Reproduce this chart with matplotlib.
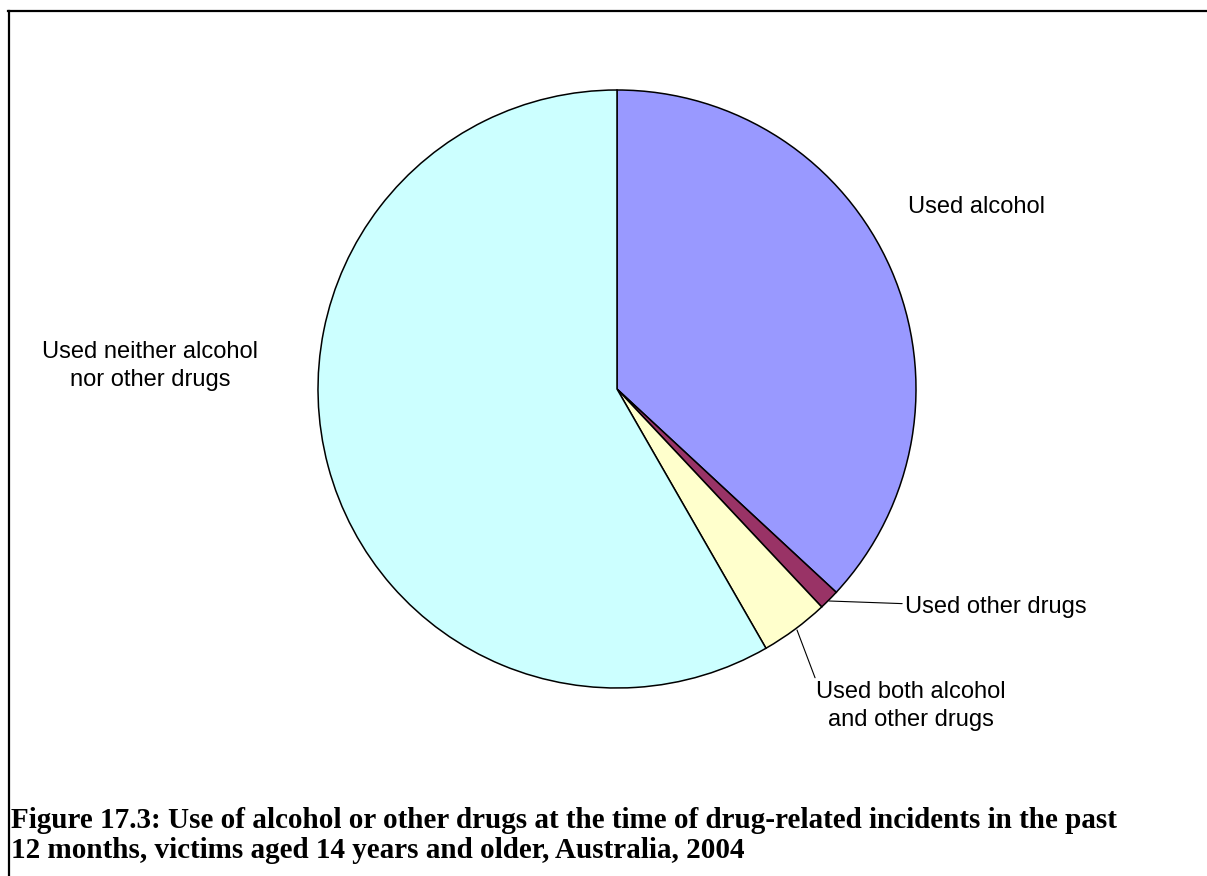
import matplotlib
matplotlib.use('Agg')
import matplotlib.pyplot as plt
from matplotlib.lines import Line2D

# Share of victims (%) by substance use at time of incident
labels = ['Used alcohol', 'Used other drugs',
          'Used both alcohol\nand other drugs',
          'Used neither alcohol\nnor other drugs']
shares = [36.9, 1.1, 3.7, 58.3]
colors = ['#9999FF', '#993366', '#FFFFCC', '#CCFFFF']

caption = ['Figure 17.3: Use of alcohol or other drugs at the time of drug-related incidents in the past',
           '12 months, victims aged 14 years and older, Australia, 2004']

W, H = 1207, 876
fig = plt.figure(figsize=(W / 100, H / 100), dpi=100)

# pie centre (617, 389) px, radius 299 px
cx, cy, r = 617, 389, 299
ax = fig.add_axes([(cx - r) / W, (H - cy - r) / H, 2 * r / W, 2 * r / H])
ax.pie(shares, colors=colors, startangle=90, counterclock=False,
       wedgeprops=dict(edgecolor='black', linewidth=1.1))
ax.set_xlim(-1, 1)
ax.set_ylim(-1, 1)
ax.set_aspect('equal')
ax.axis('off')

font = dict(family='Liberation Sans', fontsize=17, color='black', linespacing=1.4)

ax.text(0.973, 0.609, labels[0], ha='left', va='center', **font)
ax.text(-1.562, 0.077, labels[3], ha='center', va='center', **font)

# leader lines for the two small slices
ax.annotate(labels[1], xy=(0.709, -0.709), xytext=(0.963, -0.729),
            ha='left', va='center', annotation_clip=False,
            arrowprops=dict(arrowstyle='-', color='black', lw=0.8,
                            shrinkA=0, shrinkB=0), **font)
ax.annotate(labels[2], xy=(0.602, -0.806), xytext=(0.983, -1.06),
            ha='center', va='center', annotation_clip=False,
            arrowprops=dict(arrowstyle='-', color='black', lw=0.8,
                            shrinkA=0, shrinkB=0, relpos=(0.0, 1.0)), **font)

# outer frame (top and left edges only visible)
fig.add_artist(Line2D([8 / W, 1.0], [1 - 11 / H, 1 - 11 / H], color='black', lw=1.6))
fig.add_artist(Line2D([9 / W, 9 / W], [0.0, 1 - 11 / H], color='black', lw=1.6))

fig.text(11 / W, 1 - 828 / H, caption[0], family='Liberation Serif',
         fontweight='bold', fontsize=21, va='baseline', ha='left')
fig.text(11 / W, 1 - 858 / H, caption[1], family='Liberation Serif',
         fontweight='bold', fontsize=21, va='baseline', ha='left')

fig.savefig('out.png', dpi=100, facecolor='white')
